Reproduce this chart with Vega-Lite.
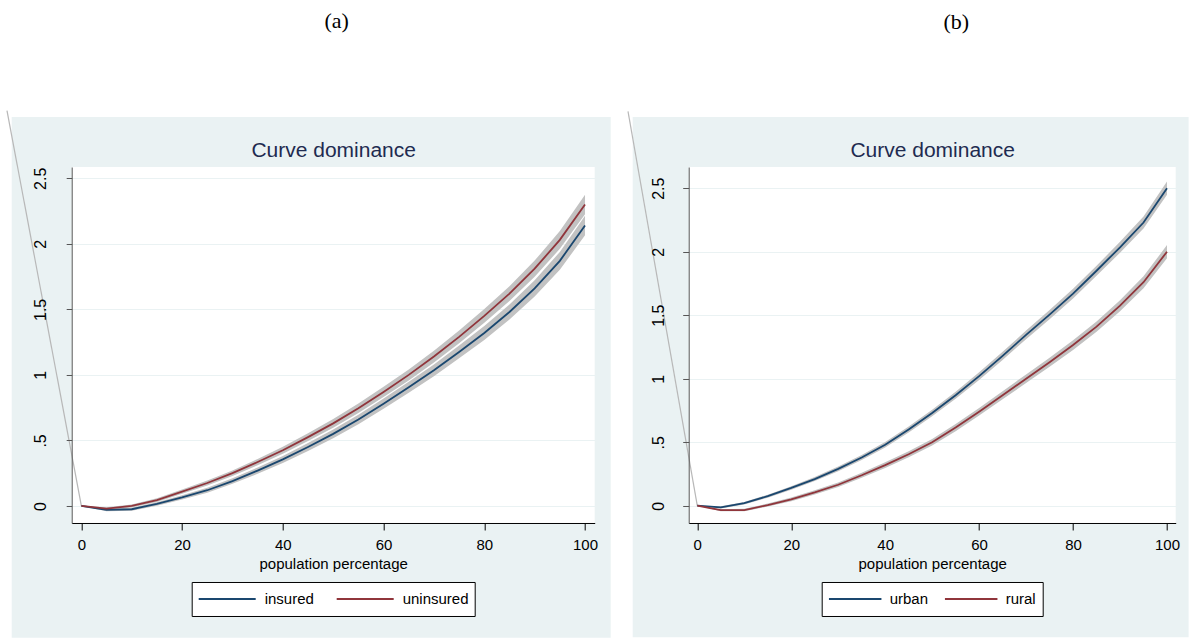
{
  "$schema": "https://vega.github.io/schema/vega-lite/v6.json",
  "background": "white",
  "padding": {"left": 3.7, "top": 10, "right": 0, "bottom": 0},
  "bounds": "flush",
  "spacing": 94,
  "resolve": {"scale": {"color": "independent"}},
  "config": {
    "view": {"stroke": null, "fill": "white"},
    "font": "Liberation Sans",
    "axis": {"labelFont": "Liberation Sans", "titleFont": "Liberation Sans", "labelColor": "black", "titleColor": "black", "titleFontWeight": "normal", "labelFlush": false},
    "legend": {"labelFont": "Liberation Sans", "labelColor": "black"},
    "title": {"font": "Liberation Serif", "fontSize": 22, "fontWeight": "normal", "color": "black"}
  },
  "datasets": {
    "a": [
      {"group": "insured", "x": 0, "y": 0, "lo": 0, "hi": 0},
      {"group": "insured", "x": 5, "y": -0.03, "lo": -0.04, "hi": -0.02},
      {"group": "insured", "x": 10, "y": -0.025, "lo": -0.037, "hi": -0.013},
      {"group": "insured", "x": 15, "y": 0.015, "lo": 0.001, "hi": 0.029},
      {"group": "insured", "x": 20, "y": 0.065, "lo": 0.049, "hi": 0.081},
      {"group": "insured", "x": 25, "y": 0.12, "lo": 0.101, "hi": 0.139},
      {"group": "insured", "x": 30, "y": 0.19, "lo": 0.169, "hi": 0.211},
      {"group": "insured", "x": 35, "y": 0.27, "lo": 0.246, "hi": 0.294},
      {"group": "insured", "x": 40, "y": 0.355, "lo": 0.328, "hi": 0.382},
      {"group": "insured", "x": 45, "y": 0.45, "lo": 0.42, "hi": 0.48},
      {"group": "insured", "x": 50, "y": 0.55, "lo": 0.517, "hi": 0.583},
      {"group": "insured", "x": 55, "y": 0.66, "lo": 0.624, "hi": 0.696},
      {"group": "insured", "x": 60, "y": 0.78, "lo": 0.741, "hi": 0.819},
      {"group": "insured", "x": 65, "y": 0.905, "lo": 0.863, "hi": 0.947},
      {"group": "insured", "x": 70, "y": 1.035, "lo": 0.99, "hi": 1.08},
      {"group": "insured", "x": 75, "y": 1.175, "lo": 1.126, "hi": 1.224},
      {"group": "insured", "x": 80, "y": 1.32, "lo": 1.267, "hi": 1.373},
      {"group": "insured", "x": 85, "y": 1.48, "lo": 1.423, "hi": 1.537},
      {"group": "insured", "x": 90, "y": 1.66, "lo": 1.598, "hi": 1.722},
      {"group": "insured", "x": 95, "y": 1.87, "lo": 1.802, "hi": 1.938},
      {"group": "insured", "x": 100, "y": 2.14, "lo": 2.065, "hi": 2.215},
      {"group": "uninsured", "x": 0, "y": 0, "lo": 0, "hi": 0},
      {"group": "uninsured", "x": 5, "y": -0.02, "lo": -0.03, "hi": -0.01},
      {"group": "uninsured", "x": 10, "y": 0.0, "lo": -0.012, "hi": 0.012},
      {"group": "uninsured", "x": 15, "y": 0.045, "lo": 0.031, "hi": 0.059},
      {"group": "uninsured", "x": 20, "y": 0.11, "lo": 0.094, "hi": 0.126},
      {"group": "uninsured", "x": 25, "y": 0.175, "lo": 0.156, "hi": 0.194},
      {"group": "uninsured", "x": 30, "y": 0.25, "lo": 0.229, "hi": 0.271},
      {"group": "uninsured", "x": 35, "y": 0.335, "lo": 0.311, "hi": 0.359},
      {"group": "uninsured", "x": 40, "y": 0.425, "lo": 0.398, "hi": 0.452},
      {"group": "uninsured", "x": 45, "y": 0.525, "lo": 0.495, "hi": 0.555},
      {"group": "uninsured", "x": 50, "y": 0.63, "lo": 0.597, "hi": 0.663},
      {"group": "uninsured", "x": 55, "y": 0.745, "lo": 0.709, "hi": 0.781},
      {"group": "uninsured", "x": 60, "y": 0.87, "lo": 0.831, "hi": 0.909},
      {"group": "uninsured", "x": 65, "y": 1.0, "lo": 0.958, "hi": 1.042},
      {"group": "uninsured", "x": 70, "y": 1.14, "lo": 1.095, "hi": 1.185},
      {"group": "uninsured", "x": 75, "y": 1.29, "lo": 1.241, "hi": 1.339},
      {"group": "uninsured", "x": 80, "y": 1.45, "lo": 1.397, "hi": 1.503},
      {"group": "uninsured", "x": 85, "y": 1.62, "lo": 1.563, "hi": 1.677},
      {"group": "uninsured", "x": 90, "y": 1.81, "lo": 1.748, "hi": 1.872},
      {"group": "uninsured", "x": 95, "y": 2.03, "lo": 1.962, "hi": 2.098},
      {"group": "uninsured", "x": 100, "y": 2.3, "lo": 2.225, "hi": 2.375}
    ],
    "b": [
      {"group": "urban", "x": 0, "y": 0, "lo": 0, "hi": 0},
      {"group": "urban", "x": 5, "y": -0.013, "lo": -0.021, "hi": -0.005},
      {"group": "urban", "x": 10, "y": 0.02, "lo": 0.01, "hi": 0.03},
      {"group": "urban", "x": 15, "y": 0.075, "lo": 0.063, "hi": 0.087},
      {"group": "urban", "x": 20, "y": 0.14, "lo": 0.126, "hi": 0.154},
      {"group": "urban", "x": 25, "y": 0.21, "lo": 0.194, "hi": 0.226},
      {"group": "urban", "x": 30, "y": 0.29, "lo": 0.272, "hi": 0.308},
      {"group": "urban", "x": 35, "y": 0.38, "lo": 0.36, "hi": 0.4},
      {"group": "urban", "x": 40, "y": 0.48, "lo": 0.458, "hi": 0.502},
      {"group": "urban", "x": 45, "y": 0.6, "lo": 0.576, "hi": 0.624},
      {"group": "urban", "x": 50, "y": 0.73, "lo": 0.704, "hi": 0.756},
      {"group": "urban", "x": 55, "y": 0.87, "lo": 0.842, "hi": 0.898},
      {"group": "urban", "x": 60, "y": 1.02, "lo": 0.99, "hi": 1.05},
      {"group": "urban", "x": 65, "y": 1.18, "lo": 1.148, "hi": 1.212},
      {"group": "urban", "x": 70, "y": 1.345, "lo": 1.311, "hi": 1.379},
      {"group": "urban", "x": 75, "y": 1.505, "lo": 1.469, "hi": 1.541},
      {"group": "urban", "x": 80, "y": 1.67, "lo": 1.632, "hi": 1.708},
      {"group": "urban", "x": 85, "y": 1.85, "lo": 1.81, "hi": 1.89},
      {"group": "urban", "x": 90, "y": 2.035, "lo": 1.992, "hi": 2.078},
      {"group": "urban", "x": 95, "y": 2.23, "lo": 2.183, "hi": 2.277},
      {"group": "urban", "x": 100, "y": 2.5, "lo": 2.448, "hi": 2.552},
      {"group": "rural", "x": 0, "y": 0, "lo": 0, "hi": 0},
      {"group": "rural", "x": 5, "y": -0.035, "lo": -0.043, "hi": -0.027},
      {"group": "rural", "x": 10, "y": -0.034, "lo": -0.044, "hi": -0.024},
      {"group": "rural", "x": 15, "y": 0.005, "lo": -0.007, "hi": 0.017},
      {"group": "rural", "x": 20, "y": 0.05, "lo": 0.036, "hi": 0.064},
      {"group": "rural", "x": 25, "y": 0.105, "lo": 0.089, "hi": 0.121},
      {"group": "rural", "x": 30, "y": 0.165, "lo": 0.147, "hi": 0.183},
      {"group": "rural", "x": 35, "y": 0.24, "lo": 0.22, "hi": 0.26},
      {"group": "rural", "x": 40, "y": 0.32, "lo": 0.298, "hi": 0.342},
      {"group": "rural", "x": 45, "y": 0.405, "lo": 0.381, "hi": 0.429},
      {"group": "rural", "x": 50, "y": 0.5, "lo": 0.474, "hi": 0.526},
      {"group": "rural", "x": 55, "y": 0.615, "lo": 0.587, "hi": 0.643},
      {"group": "rural", "x": 60, "y": 0.74, "lo": 0.71, "hi": 0.77},
      {"group": "rural", "x": 65, "y": 0.87, "lo": 0.838, "hi": 0.902},
      {"group": "rural", "x": 70, "y": 1.0, "lo": 0.966, "hi": 1.034},
      {"group": "rural", "x": 75, "y": 1.13, "lo": 1.094, "hi": 1.166},
      {"group": "rural", "x": 80, "y": 1.265, "lo": 1.227, "hi": 1.303},
      {"group": "rural", "x": 85, "y": 1.41, "lo": 1.37, "hi": 1.45},
      {"group": "rural", "x": 90, "y": 1.575, "lo": 1.532, "hi": 1.618},
      {"group": "rural", "x": 95, "y": 1.76, "lo": 1.713, "hi": 1.807},
      {"group": "rural", "x": 100, "y": 2.0, "lo": 1.948, "hi": 2.052}
    ],
    "ra": [{"x": 0, "y": 0}, {"x": -14.77, "y": 3.016}],
    "rb": [{"x": 0, "y": 0}, {"x": -14.75, "y": 3.105}],
    "one": [{}]
  },
  "hconcat": [
    {
      "width": 523,
      "height": 356,
      "title": {"text": "(a)", "dx": 3.5, "offset": 53, "baseline": "bottom", "anchor": "middle"},
      "resolve": {"axis": {"x": "independent", "y": "independent"}},
      "layer": [
        {
          "data": {"name": "a"},
          "mark": {"type": "area", "color": "#c2c2c2", "opacity": 1},
          "encoding": {
            "x": {"field": "x", "type": "quantitative", "scale": {"domain": [-1.92, 101.92], "nice": false, "zero": false}, "axis": null},
            "y": {"field": "lo", "type": "quantitative", "scale": {"domain": [-0.13, 2.586], "nice": false, "zero": false},
                  "axis": {"orient": "left", "grid": true, "gridColor": "#eaf2f3", "gridWidth": 1.2, "labels": false, "ticks": false, "domain": false, "title": null, "values": [0, 0.5, 1, 1.5, 2, 2.5], "zindex": 0}},
            "y2": {"field": "hi"},
            "detail": {"field": "group"}
          }
        },
        {
          "data": {"name": "one"},
          "mark": {"type": "rect", "color": "#eaf2f3", "clip": false},
          "encoding": {"x": {"datum": -13.83, "type": "quantitative", "axis": null}, "x2": {"datum": 105.1}, "y": {"datum": 2.967, "type": "quantitative", "axis": null}, "y2": {"datum": 2.586}}
        },
        {
          "data": {"name": "one"},
          "mark": {"type": "rect", "color": "#eaf2f3", "clip": false},
          "encoding": {"x": {"datum": -13.83, "type": "quantitative", "axis": null}, "x2": {"datum": 105.1}, "y": {"datum": -0.13, "type": "quantitative", "axis": null}, "y2": {"datum": -1.005}}
        },
        {
          "data": {"name": "one"},
          "mark": {"type": "rect", "color": "#eaf2f3", "clip": false},
          "encoding": {"x": {"datum": -13.83, "type": "quantitative", "axis": null}, "x2": {"datum": -1.92}, "y": {"datum": 2.586, "type": "quantitative", "axis": null}, "y2": {"datum": -0.13}}
        },
        {
          "data": {"name": "one"},
          "mark": {"type": "rect", "color": "#eaf2f3", "clip": false},
          "encoding": {"x": {"datum": 101.92, "type": "quantitative", "axis": null}, "x2": {"datum": 105.1}, "y": {"datum": 2.586, "type": "quantitative", "axis": null}, "y2": {"datum": -0.13}}
        },
        {
          "data": {"name": "ra"},
          "mark": {"type": "line", "clip": false, "color": "#b8b8b8", "strokeWidth": 1.2},
          "encoding": {
            "x": {"field": "x", "type": "quantitative",
                  "axis": {"orient": "top", "labels": false, "ticks": false, "domain": false, "grid": false, "title": "Curve dominance", "titleFont": "Liberation Sans", "titleFontSize": 21, "titleFontWeight": "normal", "titleColor": "#1e2b50", "titleBaseline": "middle", "titleY": -17, "zindex": 1}},
            "y": {"field": "y", "type": "quantitative", "axis": null}
          }
        },
        {
          "data": {"name": "a"},
          "mark": {"type": "line", "strokeWidth": 1.8},
          "encoding": {
            "x": {"field": "x", "type": "quantitative",
                  "axis": {"orient": "bottom", "values": [0, 20, 40, 60, 80, 100], "format": "d", "labelFontSize": 15, "labelPadding": 8, "tickSize": 7, "tickColor": "black", "domainColor": "black", "title": "population percentage", "titleFontSize": 15, "titlePadding": 3.5, "grid": false, "zindex": 1}},
            "y": {"field": "y", "type": "quantitative",
                  "axis": {"orient": "left", "grid": false, "values": [0, 0.5, 1, 1.5, 2, 2.5], "labelAngle": -90, "labelAlign": "center", "labelBaseline": "bottom", "labelFontSize": 16, "labelPadding": 18, "tickSize": 5.5, "format": "~g", "labelExpr": "datum.value == 0.5 ? '.5' : datum.label", "title": null, "zindex": 1, "domainColor": "#555555", "tickColor": "#555555"}},
            "color": {"field": "group", "type": "nominal",
                      "scale": {"domain": ["insured", "uninsured"], "range": ["#1a476f", "#90353b"]},
                      "legend": {"orient": "none", "legendX": 120, "legendY": 415, "direction": "horizontal", "title": null, "strokeColor": "black", "fillColor": "white", "padding": 6, "symbolType": "stroke", "symbolSize": 3249, "symbolStrokeWidth": 2, "clipHeight": 22, "labelFontSize": 15, "labelOffset": 8, "columnPadding": 21}}
          }
        }
      ]
    },
    {
      "width": 487,
      "height": 356,
      "title": {"text": "(b)", "dx": 24, "offset": 53, "baseline": "bottom", "anchor": "middle"},
      "resolve": {"axis": {"x": "independent", "y": "independent"}},
      "layer": [
        {
          "data": {"name": "b"},
          "mark": {"type": "area", "color": "#c2c2c2", "opacity": 1},
          "encoding": {
            "x": {"field": "x", "type": "quantitative", "scale": {"domain": [-1.83, 101.85], "nice": false, "zero": false}, "axis": null},
            "y": {"field": "lo", "type": "quantitative", "scale": {"domain": [-0.136, 2.667], "nice": false, "zero": false},
                  "axis": {"orient": "left", "grid": true, "gridColor": "#eaf2f3", "gridWidth": 1.2, "labels": false, "ticks": false, "domain": false, "title": null, "values": [0, 0.5, 1, 1.5, 2, 2.5], "zindex": 0}},
            "y2": {"field": "hi"},
            "detail": {"field": "group"}
          }
        },
        {
          "data": {"name": "one"},
          "mark": {"type": "rect", "color": "#eaf2f3", "clip": false},
          "encoding": {"x": {"datum": -13.75, "type": "quantitative", "axis": null}, "x2": {"datum": 104.6}, "y": {"datum": 3.061, "type": "quantitative", "axis": null}, "y2": {"datum": 2.667}}
        },
        {
          "data": {"name": "one"},
          "mark": {"type": "rect", "color": "#eaf2f3", "clip": false},
          "encoding": {"x": {"datum": -13.75, "type": "quantitative", "axis": null}, "x2": {"datum": 104.6}, "y": {"datum": -0.136, "type": "quantitative", "axis": null}, "y2": {"datum": -1.035}}
        },
        {
          "data": {"name": "one"},
          "mark": {"type": "rect", "color": "#eaf2f3", "clip": false},
          "encoding": {"x": {"datum": -13.75, "type": "quantitative", "axis": null}, "x2": {"datum": -1.83}, "y": {"datum": 2.667, "type": "quantitative", "axis": null}, "y2": {"datum": -0.136}}
        },
        {
          "data": {"name": "one"},
          "mark": {"type": "rect", "color": "#eaf2f3", "clip": false},
          "encoding": {"x": {"datum": 101.85, "type": "quantitative", "axis": null}, "x2": {"datum": 104.6}, "y": {"datum": 2.667, "type": "quantitative", "axis": null}, "y2": {"datum": -0.136}}
        },
        {
          "data": {"name": "rb"},
          "mark": {"type": "line", "clip": false, "color": "#b8b8b8", "strokeWidth": 1.2},
          "encoding": {
            "x": {"field": "x", "type": "quantitative",
                  "axis": {"orient": "top", "labels": false, "ticks": false, "domain": false, "grid": false, "title": "Curve dominance", "titleFont": "Liberation Sans", "titleFontSize": 21, "titleFontWeight": "normal", "titleColor": "#1e2b50", "titleBaseline": "middle", "titleY": -17, "zindex": 1}},
            "y": {"field": "y", "type": "quantitative", "axis": null}
          }
        },
        {
          "data": {"name": "b"},
          "mark": {"type": "line", "strokeWidth": 1.8},
          "encoding": {
            "x": {"field": "x", "type": "quantitative",
                  "axis": {"orient": "bottom", "values": [0, 20, 40, 60, 80, 100], "format": "d", "labelFontSize": 15, "labelPadding": 8, "tickSize": 7, "tickColor": "black", "domainColor": "black", "title": "population percentage", "titleFontSize": 15, "titlePadding": 3.5, "grid": false, "zindex": 1}},
            "y": {"field": "y", "type": "quantitative",
                  "axis": {"orient": "left", "grid": false, "values": [0, 0.5, 1, 1.5, 2, 2.5], "labelAngle": -90, "labelAlign": "center", "labelBaseline": "bottom", "labelFontSize": 16, "labelPadding": 16, "tickSize": 6, "format": "~g", "labelExpr": "datum.value == 0.5 ? '.5' : datum.label", "title": null, "zindex": 1, "domainColor": "#555555", "tickColor": "#555555"}},
            "color": {"field": "group", "type": "nominal",
                      "scale": {"domain": ["urban", "rural"], "range": ["#1a476f", "#90353b"]},
                      "legend": {"orient": "none", "legendX": 133, "legendY": 415, "direction": "horizontal", "title": null, "strokeColor": "black", "fillColor": "white", "padding": 6, "symbolType": "stroke", "symbolSize": 2756, "symbolStrokeWidth": 2, "clipHeight": 22, "labelFontSize": 15, "labelOffset": 7, "columnPadding": 15}}
          }
        }
      ]
    }
  ]
}
